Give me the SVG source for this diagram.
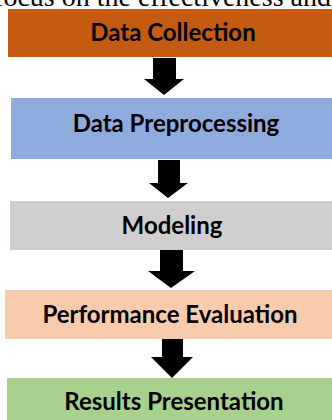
<svg xmlns="http://www.w3.org/2000/svg" width="332" height="420" viewBox="0 0 332 420">
<style>
.lbl{font-family:Lato,"Open Sans","Liberation Sans",sans-serif;font-weight:bold;font-size:24px;fill:#000;text-anchor:middle}
.arr{fill:#000}
</style>
<rect width="332" height="420" fill="#fff"/>
<text x="331" y="6" font-family="Liberation Serif,serif" font-size="28" text-anchor="end" fill="#000">focus on the effectiveness and</text>
<g id="n1"><rect x="8" y="9" width="324" height="48" fill="#C55A11"/><text class="lbl" x="173" y="41">Data Collection</text></g>
<g id="n2"><rect x="11" y="98" width="321" height="61" fill="#8FAADC"/><text class="lbl" x="176" y="132">Data Preprocessing</text></g>
<g id="n3"><rect x="10" y="201" width="322" height="49" fill="#D0CECE"/><text class="lbl" x="172" y="234">Modeling</text></g>
<g id="n4"><rect x="5" y="290" width="327" height="49" fill="#F8CBAD"/><text class="lbl" x="170" y="323">Performance Evaluation</text></g>
<g id="n5"><rect x="7" y="378" width="325" height="42" fill="#A9D18E"/><text class="lbl" x="174" y="410">Results Presentation</text></g>
<g id="connectors">
<polygon class="arr" points="153,58 176,58 176,79 184,79 164,95 144,79 153,79"/>
<polygon class="arr" points="158,160 180,160 180,183 188,183 168,198 149,183 158,183"/>
<polygon class="arr" points="160,250 183,250 183,271 195,271 171,288 148,271 160,271"/>
<polygon class="arr" points="162,339 183,339 183,357 193,357 172,378 151,357 162,357"/>
</g>
</svg>
